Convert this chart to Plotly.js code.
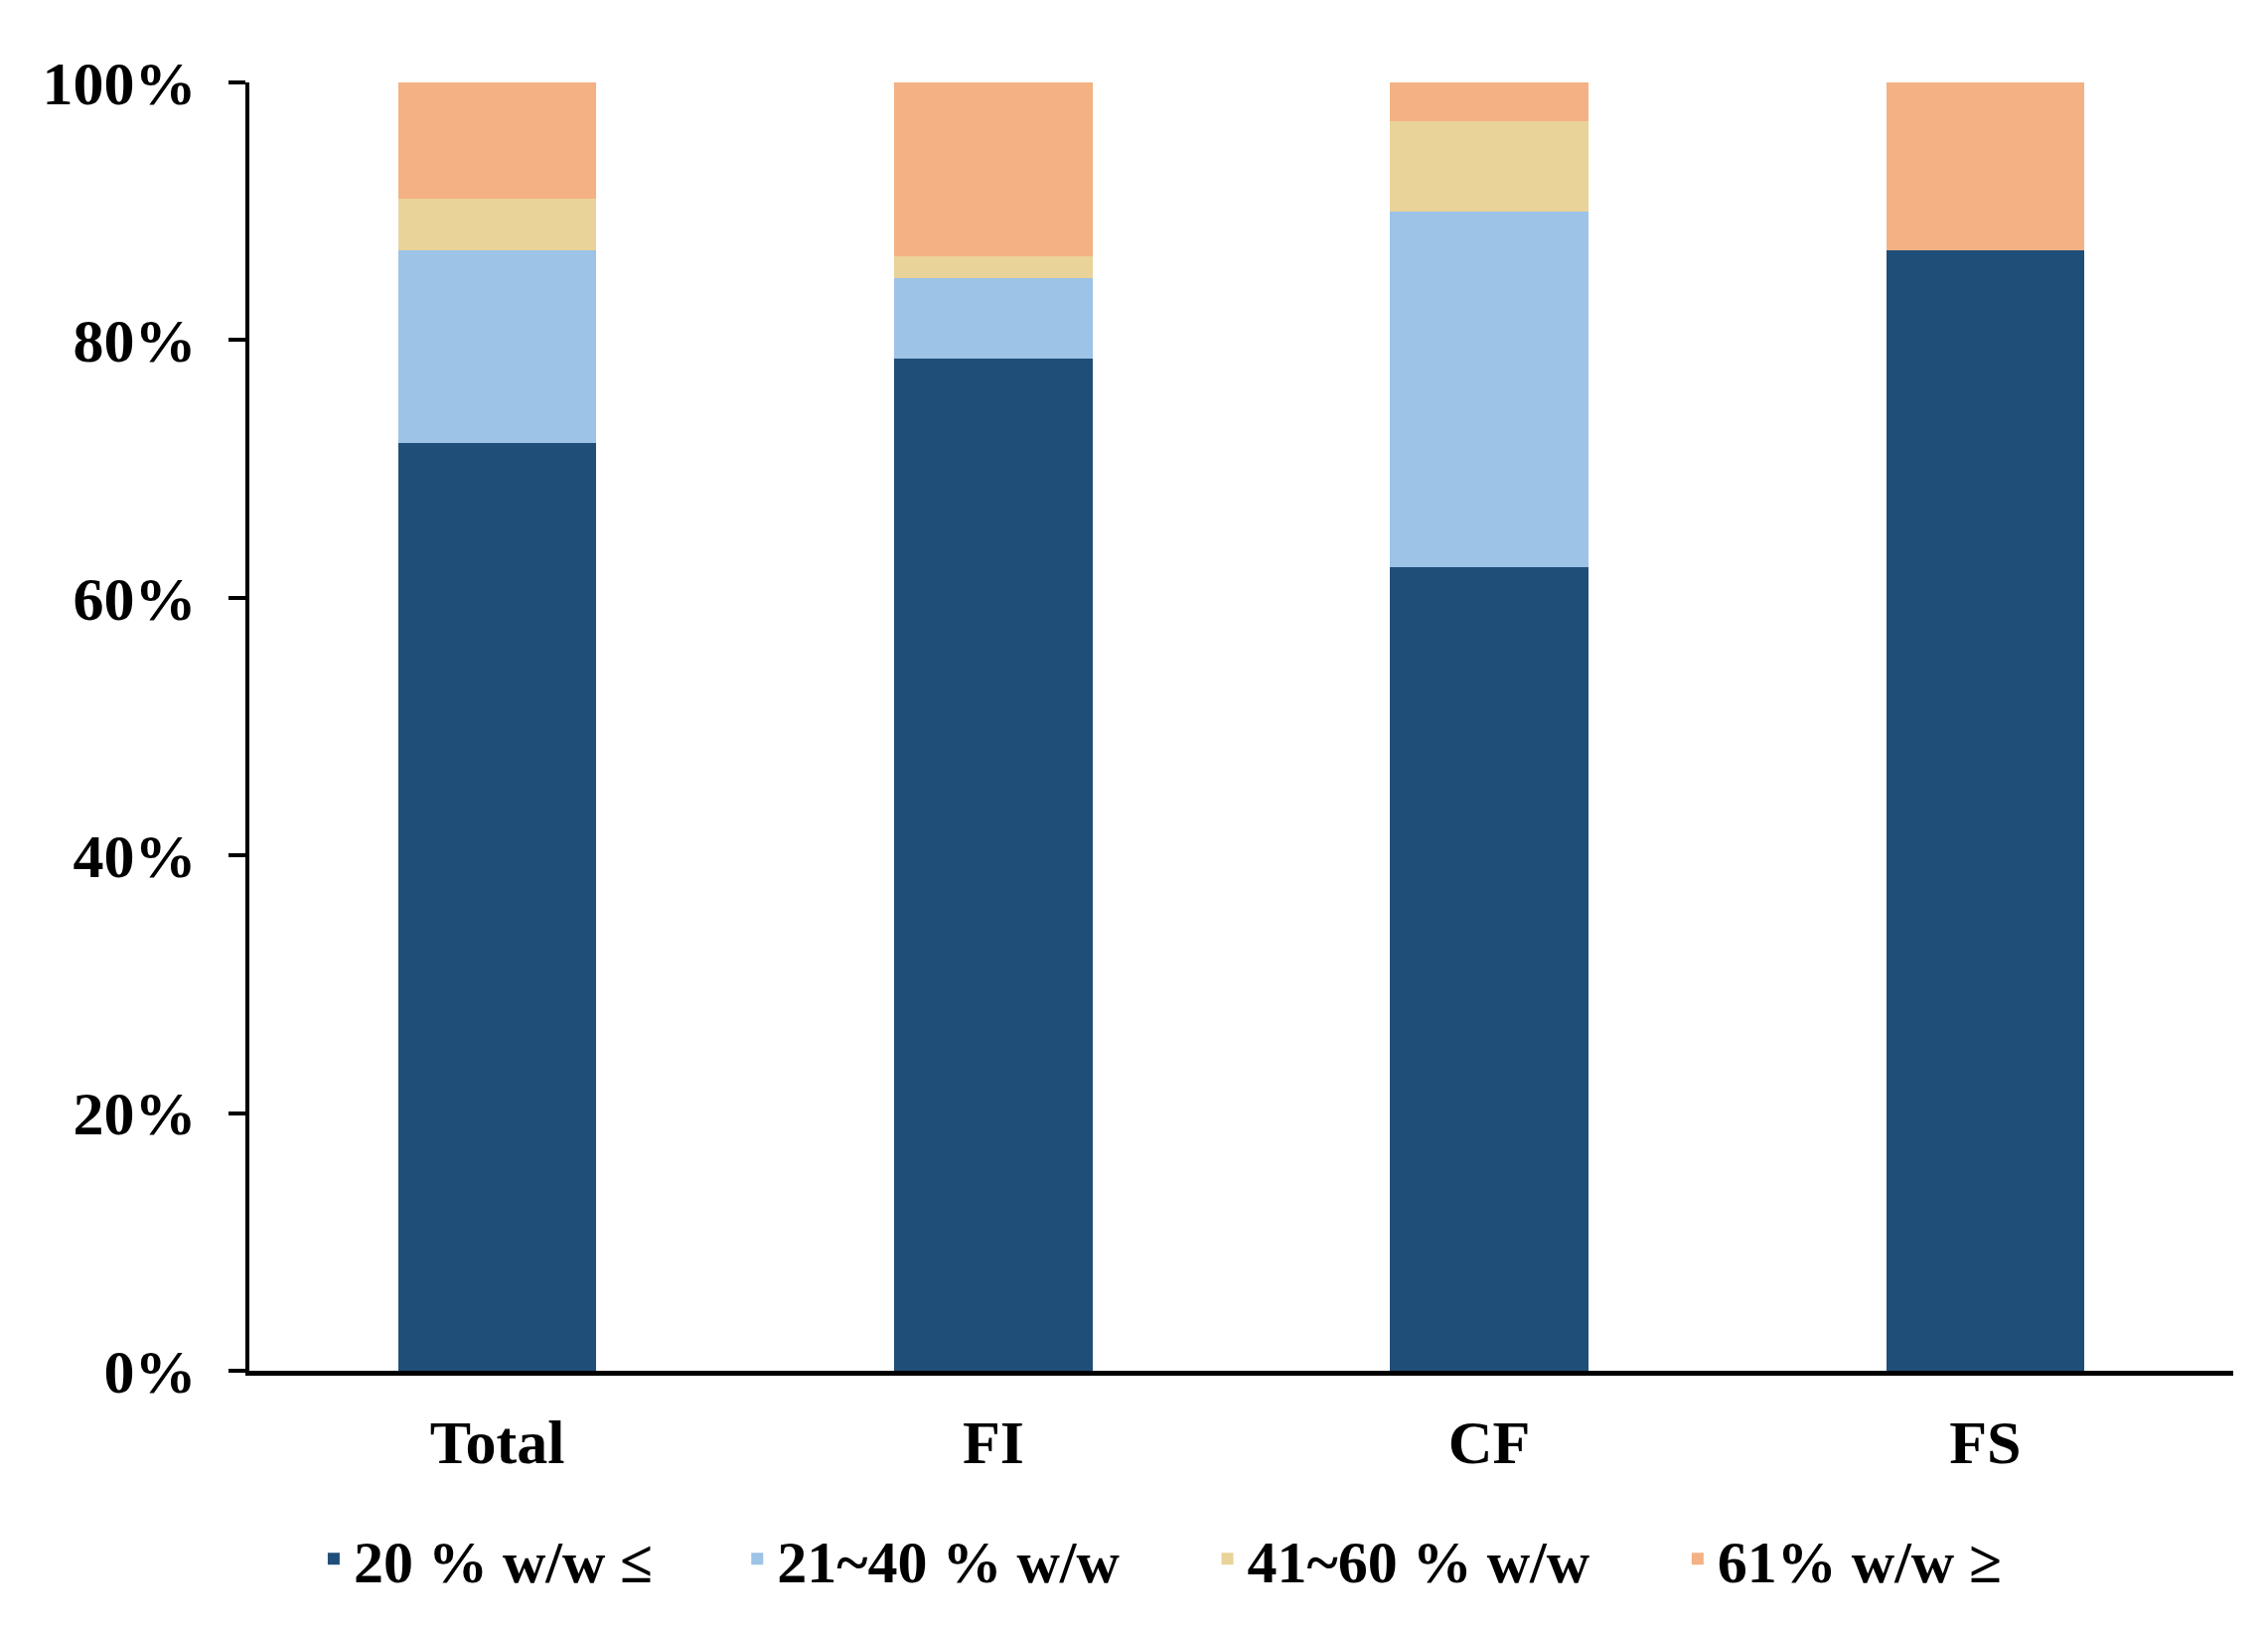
<!DOCTYPE html>
<html>
<head>
<meta charset="utf-8">
<script src="https://cdn.plot.ly/plotly-3.0.1.min.js"></script>
<style>html,body{margin:0;padding:0;background:#fff;}#chart{width:2283px;height:1641px;}</style>
</head>
<body>
<div id="chart"></div>
<script>
const categories = ['Total', 'FI', 'CF', 'FS'];
const seriesNames = ['20 % w/w \u2264', '21~40 % w/w', '41~60 % w/w', '61% w/w \u2265'];
const s20 = [72.0, 78.6, 62.4, 87.0];
const s21_40 = [15.0, 6.2, 27.6, 0];
const s41_60 = [4.0, 1.7, 7.0, 0];
const s61 = [9.0, 13.5, 3.0, 13.0];
const colors = ['#1F4E79', '#9DC3E6', '#E9D398', '#F4B183'];
const yTickVals = [0, 20, 40, 60, 80, 100];
const yTickText = ['0%', '20%', '40%', '60%', '80%', '100%'];

const FONT = 'Liberation Serif, Times New Roman, serif';
const seriesData = [s20, s21_40, s41_60, s61];
const legendIds = ['legend', 'legend2', 'legend3', 'legend4'];
const legendX = [0.0325, 0.246, 0.483, 0.720];

const traces = seriesData.map((vals, i) => ({
  type: 'bar',
  x: categories,
  y: vals,
  name: seriesNames[i],
  marker: {color: colors[i], line: {width: 0}},
  legend: legendIds[i],
  hoverinfo: 'x+y+name'
}));

const legendBase = (x) => ({
  x: x, xanchor: 'left', y: -0.146, yanchor: 'middle',
  orientation: 'h', bgcolor: 'rgba(0,0,0,0)', borderwidth: 0,
  font: {family: FONT, size: 60, color: '#000', weight: 'bold'}
});

const layout = {
  width: 2283, height: 1641,
  margin: {l: 251, r: 35, t: 83, b: 261},
  paper_bgcolor: '#fff', plot_bgcolor: '#fff',
  barmode: 'stack', bargap: 0.6,
  font: {family: FONT, color: '#000'},
  showlegend: true,
  xaxis: {
    type: 'category', range: [-0.5, 3.5],
    showline: true, linecolor: '#000', linewidth: 5,
    ticks: '', showgrid: false, zeroline: false,
    tickfont: {family: FONT, size: 62, color: '#000', weight: 'bold'},
    ticklabelstandoff: 14
  },
  yaxis: {
    range: [0, 100], tickvals: yTickVals, ticktext: yTickText,
    showline: true, linecolor: '#000', linewidth: 4,
    ticks: 'outside', ticklen: 17, tickwidth: 4, tickcolor: '#000',
    showgrid: false, zeroline: false,
    tickfont: {family: FONT, size: 62, color: '#000', weight: 'bold'},
    ticklabelstandoff: 20
  }
};
legendIds.forEach((id, i) => { layout[id] = legendBase(legendX[i]); });

Plotly.newPlot('chart', traces, layout, {displayModeBar: false, staticPlot: true});
</script>
</body>
</html>
